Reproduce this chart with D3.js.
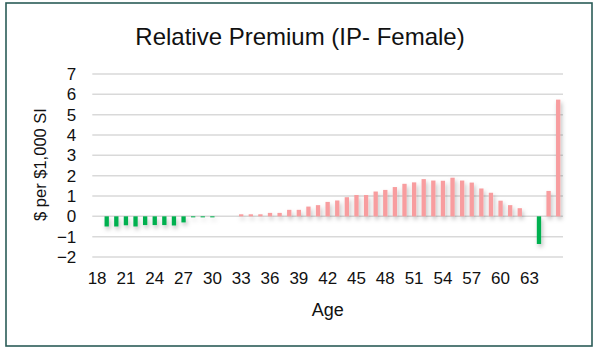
<!DOCTYPE html>
<html>
<head>
<meta charset="utf-8">
<script src="https://cdn.jsdelivr.net/npm/d3@7"></script>
<style>
body{margin:0;background:#fff;}
text{font-family:"Liberation Sans",Arial,sans-serif;fill:#111;}
</style>
</head>
<body>
<svg id="chart" width="598" height="352"></svg>
<script>
// ages on the x axis (18..66)
var ages = d3.range(18, 67);
// relative premium, $ per $1,000 SI
var premium = [0, -0.5, -0.5, -0.44, -0.5, -0.43, -0.43, -0.43, -0.45, -0.3,
    -0.05, -0.05, -0.05, 0, 0, 0.1, 0.1, 0.1, 0.17, 0.17,
    0.32, 0.32, 0.48, 0.55, 0.71, 0.78, 0.94, 1.05, 1.05, 1.22,
    1.3, 1.44, 1.6, 1.67, 1.83, 1.76, 1.75, 1.9, 1.76, 1.66,
    1.37, 1.16, 0.77, 0.55, 0.4, 0, -1.36, 1.25, 5.74];
var xTicks = [18, 21, 24, 27, 30, 33, 36, 39, 42, 45, 48, 51, 54, 57, 60, 63];
var yTicks = [-2, -1, 0, 1, 2, 3, 4, 5, 6, 7];

var data = ages.map(function(a, i){ return {age:a, v:premium[i]}; });

var svg = d3.select("#chart");
var margin = {left:92.3, right:35, top:74, bottom:95};
var width = 598 - margin.left - margin.right;
var height = 352 - margin.top - margin.bottom;

// outer frame
svg.append("rect")
    .attr("x", 6).attr("y", 3)
    .attr("width", 586).attr("height", 343)
    .style("fill", "#fff")
    .style("stroke", "#2b5c58")
    .style("stroke-width", "1.6px");

svg.append("text")
    .attr("x", 300).attr("y", 45)
    .attr("text-anchor", "middle")
    .style("font-size", "24px")
    .text("Relative Premium (IP- Female)");

var defs = svg.append("defs");
defs.append("filter")
    .attr("id", "shadow")
    .attr("x", "-50%").attr("y", "-20%")
    .attr("width", "250%").attr("height", "150%")
    .append("feDropShadow")
    .attr("dx", 1.5).attr("dy", 3)
    .attr("stdDeviation", 2)
    .attr("flood-color", "#000")
    .attr("flood-opacity", 0.25);

var g = svg.append("g")
    .attr("transform", "translate(" + margin.left + "," + margin.top + ")");

var x = d3.scaleBand()
    .domain(ages)
    .range([0, width])
    .paddingInner(0.55)
    .paddingOuter(0.275);

var y = d3.scaleLinear()
    .domain([-2, 7])
    .range([height, 0]);

// gridlines
g.append("g")
    .selectAll("line")
    .data(yTicks)
    .enter().append("line")
    .attr("x1", 0).attr("x2", width)
    .attr("y1", function(d){ return y(d); })
    .attr("y2", function(d){ return y(d); })
    .style("stroke", "#d9d9d9")
    .style("stroke-width", "1.5px");

// bars
g.append("g")
    .attr("filter", "url(#shadow)")
    .selectAll("rect")
    .data(data.filter(function(d){ return d.v !== 0; }))
    .enter().append("rect")
    .attr("x", function(d){ return x(d.age); })
    .attr("width", x.bandwidth())
    .attr("y", function(d){ return y(Math.max(0, d.v)); })
    .attr("height", function(d){ return Math.max(1, Math.abs(y(d.v) - y(0))); })
    .style("fill", function(d){ return d.v < 0 ? "#00b050" : "#f89d9f"; });

// y axis
var yAxis = g.append("g")
    .call(d3.axisLeft(y).tickValues(yTicks).tickSize(0).tickPadding(16));
yAxis.select(".domain").remove();
yAxis.selectAll("text").style("font-size", "17px").style("fill", "#111");

// x axis (labels every 3rd age)
var xAxis = g.append("g")
    .attr("transform", "translate(0," + height + ")")
    .call(d3.axisBottom(x).tickValues(xTicks).tickSize(0).tickPadding(15));
xAxis.select(".domain").remove();
xAxis.selectAll("text").style("font-size", "17px").style("fill", "#111");

svg.append("text")
    .attr("x", margin.left + width / 2).attr("y", 316)
    .attr("text-anchor", "middle")
    .style("font-size", "18px")
    .text("Age");

svg.append("text")
    .attr("transform", "translate(46," + (margin.top + height / 2 - 1) + ") rotate(-90)")
    .attr("text-anchor", "middle")
    .style("font-size", "16.5px")
    .text("$ per $1,000 SI");
</script>
</body>
</html>
